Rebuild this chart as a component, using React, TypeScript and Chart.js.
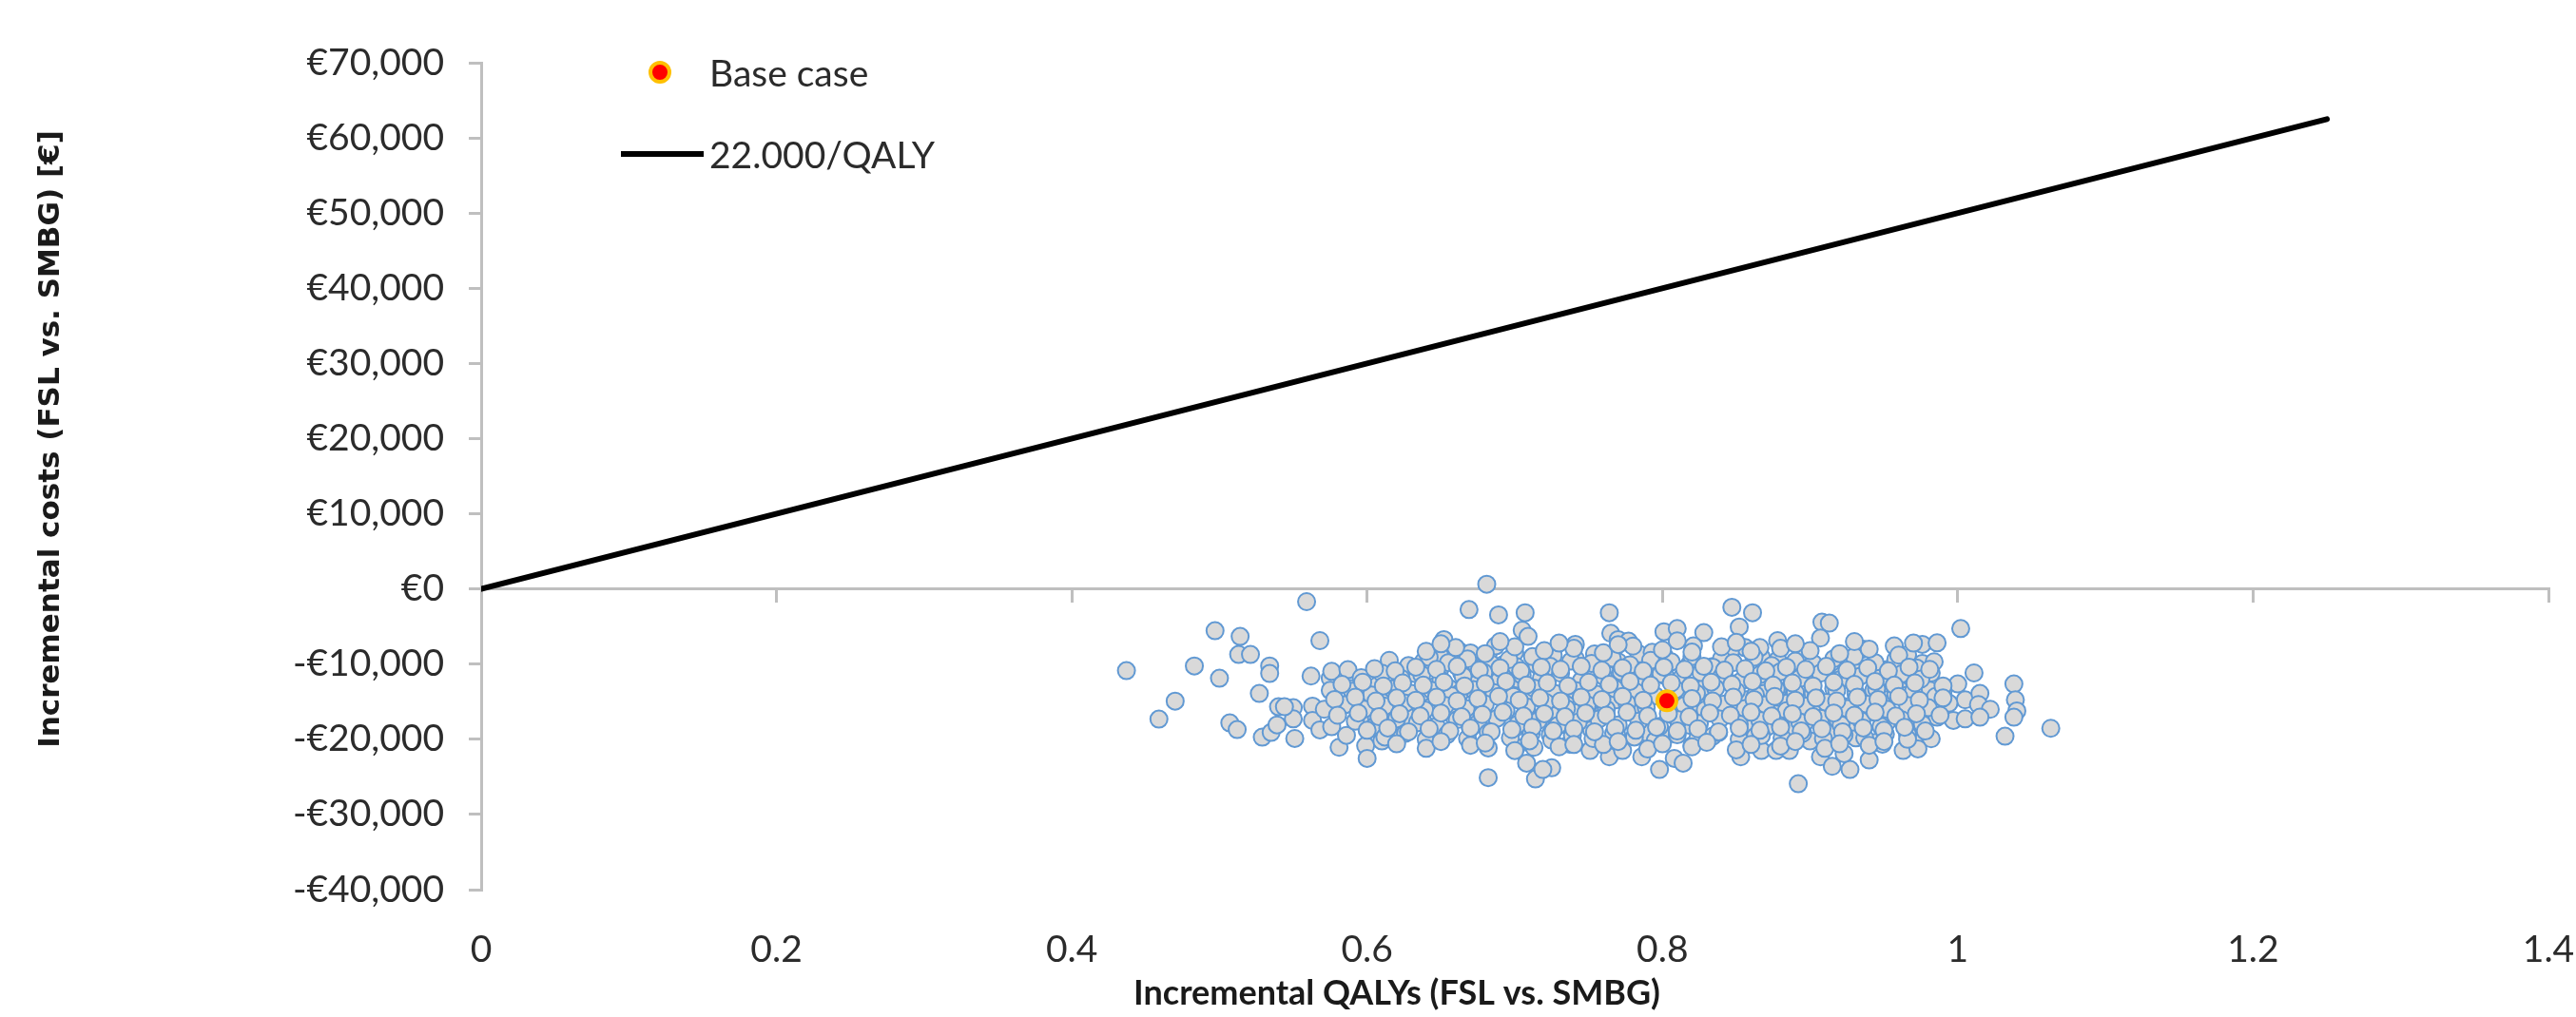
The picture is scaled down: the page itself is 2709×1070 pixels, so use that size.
import React, { useEffect, useRef } from "react";
import { Chart, registerables } from "chart.js";

Chart.register(...registerables);

// ---------- DATA ----------
const X_TICKS = [0, 0.2, 0.4, 0.6, 0.8, 1, 1.2, 1.4];
const Y_TICKS = [70000, 60000, 50000, 40000, 30000, 20000, 10000, 0, -10000, -20000, -30000, -40000];

const X_TITLE = "Incremental QALYs (FSL vs. SMBG)";
const Y_TITLE = "Incremental costs (FSL vs. SMBG) [€]";
const BASE_LABEL = "Base case";
const WTP_LABEL = "22.000/QALY";

const wtpLine: [number, number][] = [[0, 0], [1.25, 62500]];
const baseCase: [number, number][] = [[0.803, -14870]];

const cloudA: [number, number][] = [
  [0.437, -10870], [0.459, -17320], [0.470, -14920], [0.483, -10240], [0.497, -5560], [0.500, -11880],
  [0.514, -6320], [0.513, -8720], [0.521, -8720], [0.507, -17820], [0.512, -18710], [0.527, -13900],
  [0.534, -10240], [0.534, -11250], [0.529, -19720], [0.535, -19090], [0.540, -15670], [0.539, -18080],
];

const cloudB: [number, number][] = [
  [0.559, -1690], [0.568, -6870], [0.562, -11590], [0.550, -15800], [0.550, -17280], [0.551, -19890],
  [0.544, -15670], [0.563, -15590], [0.563, -17480], [0.568, -18750], [0.571, -16010], [0.576, -18330],
  [0.575, -11880], [0.576, -10960], [0.575, -13490], [0.587, -10740], [0.581, -21070], [0.586, -19470],
  [0.594, -15510], [0.599, -13400], [0.599, -20860], [0.600, -22540], [0.589, -13270], [0.591, -14950],
  [0.595, -17280], [0.607, -12850], [0.608, -16520], [0.612, -14330], [0.615, -19170], [0.610, -20220],
  [0.616, -17060], [0.623, -15380], [0.622, -13690], [0.632, -11250], [0.628, -17060], [0.636, -14540],
  [0.638, -9690], [0.644, -13060], [0.649, -10870], [0.649, -8760], [0.652, -6740], [0.644, -15590],
  [0.638, -17700], [0.645, -18750], [0.651, -16220], [0.656, -13270], [0.659, -17060], [0.662, -8220],
  [0.664, -11170], [0.670, -8510], [0.669, -2740], [0.663, -13820], [0.670, -18540], [0.672, -16850],
  [0.674, -12640], [0.677, -10530],
];

const cloudC: [number, number][] = [
  [0.681, 630], [0.682, -25100], [0.682, -21150],
  [0.689, -3450], [0.707, -3160], [0.705, -5480], [0.709, -6320], [0.683, -18960], [0.681, -13060],
  [0.682, -8640], [0.687, -7580], [0.695, -15170], [0.692, -10110], [0.700, -8430], [0.701, -10320],
  [0.702, -12010], [0.700, -18540], [0.701, -21070], [0.708, -23170], [0.713, -21070], [0.714, -25280],
  [0.725, -23800], [0.719, -24020], [0.709, -14330], [0.708, -16010], [0.715, -10110], [0.717, -12640],
  [0.722, -11170], [0.726, -8850], [0.726, -16850], [0.724, -19380], [0.730, -18120], [0.735, -14330],
  [0.737, -20640], [0.741, -7370], [0.741, -9270], [0.743, -16430], [0.747, -11790], [0.752, -18750],
  [0.751, -21490], [0.754, -10530], [0.754, -8640], [0.750, -13490], [0.760, -16430], [0.764, -3160],
  [0.765, -5900], [0.770, -6740], [0.777, -6950], [0.764, -12850], [0.770, -9690], [0.769, -14750],
  [0.769, -19380], [0.764, -22330], [0.773, -21490], [0.782, -16010], [0.782, -13900], [0.784, -8640],
  [0.780, -11380], [0.786, -22330], [0.790, -19170], [0.793, -8430], [0.796, -11380], [0.798, -24020],
  [0.801, -5690], [0.801, -8850], [0.802, -11590], [0.802, -19590], [0.808, -22540], [0.810, -5270],
  [0.808, -14330], [0.810, -17280],
];

const cloudD: [number, number][] = [
  [0.847, -2440], [0.861, -3160], [0.852, -5060], [0.828, -5810], [0.878, -6870], [0.908, -4420],
  [0.913, -4550], [0.907, -6530], [0.936, -8000], [0.896, -8430], [0.867, -9060], [0.856, -7800],
  [0.846, -8430], [0.834, -10320], [0.821, -7580], [0.818, -10110], [0.816, -13490], [0.826, -15800],
  [0.818, -18120], [0.820, -20860], [0.814, -23170], [0.843, -12130], [0.841, -16850], [0.834, -19590],
  [0.853, -22330], [0.854, -20440], [0.857, -14750], [0.858, -11380], [0.859, -17910], [0.867, -21490],
  [0.863, -19590], [0.870, -12130], [0.869, -13900], [0.871, -18330], [0.877, -21490], [0.878, -9480],
  [0.878, -13490], [0.877, -16650], [0.886, -21490], [0.888, -12220], [0.888, -18540], [0.892, -25910],
  [0.896, -17910], [0.896, -13490], [0.902, -13900], [0.903, -10110], [0.900, -20220], [0.907, -22330],
  [0.908, -16010], [0.915, -23600], [0.915, -18960], [0.919, -17480], [0.921, -11590], [0.927, -24020],
  [0.923, -21910], [0.927, -15590], [0.930, -10530], [0.931, -19810], [0.940, -22750], [0.941, -15590],
  [0.943, -13490], [0.944, -20440], [0.948, -10740], [0.840, -9270], [0.866, -7800], [0.829, -13060],
  [0.848, -16010], [0.885, -15170], [0.916, -13270], [0.929, -17700],
];

const cloudE: [number, number][] = [
  [1.002, -5270], [0.957, -7580], [0.976, -7370], [0.986, -7170], [0.966, -8760], [0.976, -9900],
  [0.984, -9690], [0.952, -10740], [0.966, -10740], [0.982, -11170], [1.011, -11170], [0.969, -12640],
  [1.000, -12640], [0.990, -13690], [0.952, -13060], [0.961, -13490], [1.038, -12640], [0.952, -14750],
  [1.005, -14750], [1.015, -13900], [1.014, -15380], [1.022, -16010], [1.039, -14750], [1.040, -16220],
  [1.038, -17060], [0.975, -15590], [0.952, -17700], [0.966, -17280], [0.986, -17060], [0.997, -17480],
  [1.005, -17280], [1.015, -17060], [1.063, -18540], [1.032, -19590], [0.982, -19930], [0.973, -19170],
  [0.966, -19380], [0.963, -21490], [0.973, -21280], [0.949, -20640], [0.981, -13490], [0.966, -14120],
];

const coreUpper: [number, number][] = [
  [0.615, -9500], [0.628, -10200], [0.642, -9100], [0.655, -9800], [0.668, -9300], [0.684, -10000],
  [0.696, -9400], [0.712, -9000], [0.724, -10300], [0.738, -9600], [0.752, -9900], [0.766, -9200],
  [0.778, -10100], [0.792, -9500], [0.806, -9700], [0.820, -9000], [0.834, -10400], [0.848, -9800],
  [0.862, -9100], [0.874, -10200], [0.890, -9600], [0.902, -9900], [0.916, -9300], [0.930, -9000],
  [0.944, -9800], [0.958, -9400], [0.972, -10500],
  [0.596, -11800], [0.610, -11200], [0.623, -11900], [0.637, -11400], [0.650, -12100], [0.665, -11600],
  [0.679, -11100], [0.690, -12000], [0.705, -11500], [0.718, -11900], [0.731, -11200], [0.745, -12200],
  [0.760, -11600], [0.772, -11000], [0.786, -12000], [0.799, -11300], [0.813, -11800], [0.826, -11100],
  [0.840, -11700], [0.853, -12300], [0.866, -11400], [0.880, -11000], [0.893, -11900], [0.907, -11200],
  [0.920, -12100], [0.934, -11600], [0.947, -11900], [0.962, -11300], [0.975, -12000],
];

const coreMiddle: [number, number][] = [
  [0.590, -13600], [0.603, -14100], [0.617, -13300], [0.630, -13900], [0.644, -13500], [0.657, -14200],
  [0.672, -13400], [0.686, -13800], [0.699, -14300], [0.713, -13200], [0.727, -13900], [0.741, -13500],
  [0.755, -14000], [0.768, -13300], [0.782, -13700], [0.795, -14200], [0.809, -13400], [0.823, -13900],
  [0.836, -13200], [0.850, -13600], [0.863, -14100], [0.877, -13300], [0.890, -13800], [0.904, -14300],
  [0.918, -13500], [0.931, -13900], [0.945, -13300], [0.958, -14000], [0.970, -13600], [0.985, -14300],
  [0.585, -15400], [0.598, -16000], [0.612, -15600], [0.626, -15200], [0.639, -16100], [0.653, -15500],
  [0.667, -15900], [0.680, -15300], [0.694, -16200], [0.708, -15700], [0.721, -15100], [0.735, -15900],
  [0.749, -15400], [0.762, -16000], [0.776, -15200], [0.789, -15800], [0.815, -15500], [0.829, -16100],
  [0.842, -15300], [0.856, -15900], [0.870, -15400], [0.884, -16200], [0.897, -15600], [0.911, -15100],
  [0.925, -15900], [0.938, -15300], [0.952, -16000], [0.966, -15500], [0.980, -15800], [0.994, -15200],
];

const coreLower: [number, number][] = [
  [0.592, -17600], [0.606, -18100], [0.620, -17300], [0.634, -17800], [0.647, -18300], [0.661, -17400],
  [0.675, -17900], [0.688, -17200], [0.702, -18000], [0.716, -17500], [0.729, -18200], [0.743, -17700],
  [0.757, -17300], [0.770, -18100], [0.784, -17600], [0.798, -18300], [0.811, -17400], [0.825, -17900],
  [0.839, -17300], [0.852, -18000], [0.866, -17500], [0.880, -18200], [0.893, -17700], [0.907, -17200],
  [0.921, -18100], [0.935, -17600], [0.948, -18300], [0.962, -17400], [0.976, -18000],
  [0.612, -19700], [0.626, -19200], [0.640, -20000], [0.654, -19400], [0.668, -19900], [0.682, -19100],
  [0.697, -19800], [0.711, -19300], [0.725, -20100], [0.739, -19500], [0.753, -19900], [0.767, -19200],
  [0.781, -19700], [0.795, -20200], [0.810, -19400], [0.824, -19800], [0.838, -19100], [0.852, -20000],
  [0.867, -19500], [0.881, -19800], [0.895, -19200], [0.909, -19900], [0.923, -19400], [0.937, -19800],
  [0.951, -19300], [0.966, -20000],
];

const coreEdges: [number, number][] = [
  [0.640, -8300], [0.660, -7800], [0.680, -8600], [0.700, -7700], [0.720, -8200], [0.740, -7900],
  [0.760, -8500], [0.780, -7600], [0.800, -8100], [0.820, -8400], [0.840, -7700], [0.860, -8300],
  [0.880, -7900], [0.900, -8200], [0.920, -8600], [0.940, -8000], [0.960, -8800],
  [0.640, -21200], [0.670, -20800], [0.700, -21500], [0.730, -21000], [0.760, -20700], [0.790, -21300],
  [0.820, -21000], [0.850, -21400], [0.880, -20900], [0.910, -21200], [0.940, -20800],
];

const coreBetweenUpper: [number, number][] = [
  [0.605, -10600], [0.619, -10900], [0.633, -10400], [0.647, -10700], [0.661, -10300], [0.676, -10800],
  [0.690, -10500], [0.704, -10900], [0.718, -10400], [0.731, -10700], [0.745, -10300], [0.759, -10800],
  [0.773, -10500], [0.787, -10900], [0.801, -10400], [0.815, -10700], [0.828, -10300], [0.842, -10800],
  [0.856, -10600], [0.870, -10900], [0.884, -10400], [0.897, -10700], [0.911, -10300], [0.925, -10800],
  [0.939, -10500], [0.953, -10900], [0.967, -10400], [0.981, -10700],
  [0.583, -12700], [0.597, -12400], [0.611, -12900], [0.624, -12500], [0.638, -12800], [0.652, -12400],
  [0.666, -12900], [0.680, -12600], [0.694, -12300], [0.708, -12800], [0.722, -12500], [0.736, -12900],
  [0.750, -12400], [0.764, -12700], [0.778, -12300], [0.792, -12800], [0.806, -12500], [0.819, -12900],
  [0.833, -12400], [0.847, -12700], [0.861, -12300], [0.875, -12800], [0.888, -12500], [0.902, -12900],
  [0.916, -12400], [0.930, -12700], [0.944, -12300], [0.957, -12800], [0.971, -12500], [0.990, -12900],
];

const coreBetweenMiddle: [number, number][] = [
  [0.578, -14700], [0.592, -14400], [0.606, -14900], [0.620, -14500], [0.633, -14800], [0.647, -14400],
  [0.661, -14900], [0.675, -14600], [0.689, -14300], [0.703, -14800], [0.717, -14500], [0.731, -14900],
  [0.745, -14400], [0.759, -14700], [0.773, -14300], [0.787, -14800], [0.820, -14600], [0.834, -14900],
  [0.848, -14400], [0.862, -14700], [0.876, -14300], [0.890, -14800], [0.904, -14500], [0.918, -14900],
  [0.932, -14400], [0.946, -14700], [0.960, -14300], [0.974, -14800], [0.990, -14500],
  [0.580, -16800], [0.594, -16500], [0.608, -17000], [0.622, -16600], [0.636, -16900], [0.650, -16500],
  [0.664, -17000], [0.678, -16700], [0.692, -16400], [0.706, -16900], [0.720, -16600], [0.734, -17000],
  [0.748, -16500], [0.762, -16800], [0.776, -16400], [0.790, -16900], [0.804, -16600], [0.818, -17000],
  [0.832, -16500], [0.846, -16800], [0.860, -16400], [0.874, -16900], [0.888, -16600], [0.902, -17000],
  [0.916, -16500], [0.930, -16800], [0.944, -16400], [0.958, -16900], [0.972, -16600], [0.988, -16800],
];

const coreBetweenLower: [number, number][] = [
  [0.600, -18800], [0.614, -18500], [0.628, -19000], [0.642, -18600], [0.656, -18900], [0.670, -18500],
  [0.684, -19000], [0.698, -18700], [0.712, -18400], [0.726, -18900], [0.740, -18600], [0.754, -19000],
  [0.768, -18500], [0.782, -18800], [0.796, -18400], [0.810, -18900], [0.824, -18600], [0.838, -19000],
  [0.852, -18500], [0.866, -18800], [0.880, -18400], [0.894, -18900], [0.908, -18600], [0.922, -19000],
  [0.936, -18500], [0.950, -18800], [0.964, -18400], [0.978, -18900],
  [0.620, -20600], [0.650, -20300], [0.680, -20500], [0.710, -20200], [0.740, -20700], [0.770, -20300],
  [0.800, -20600], [0.830, -20400], [0.860, -20700], [0.890, -20300], [0.920, -20600], [0.950, -20300],
  [0.650, -7300], [0.690, -7000], [0.730, -7200], [0.770, -7400], [0.810, -6900], [0.850, -7100],
  [0.890, -7300], [0.930, -7000], [0.970, -7200],
];

// ---------- HELPERS ----------
const toXY = (arr: [number, number][]) => arr.map(([x, y]) => ({ x, y }));
const fmtEuro = (v: number) => (v < 0 ? "-" : "") + "€" + Math.abs(v).toLocaleString("en-US");
const fmtQ = (v: number) => String(Number(v.toFixed(1)));

const TICK_FONT = { family: "Lato, 'Open Sans', sans-serif", size: 39 };
const TEXT_COLOR = "#2b2b2b";
const AXIS_COLOR = "#BFBFBF";

export default function App() {
  const ref = useRef<HTMLCanvasElement | null>(null);

  useEffect(() => {
    const canvas = ref.current;
    if (!canvas) return;

    const decor = {
      id: "decor",
      afterDraw(chart: any) {
        const ctx = chart.ctx as CanvasRenderingContext2D;
        // Y axis title
        ctx.save();
        ctx.fillStyle = "#1a1a1a";
        ctx.font = "bold 31px 'DejaVu Sans', sans-serif";
        ctx.textAlign = "center";
        ctx.textBaseline = "middle";
        ctx.translate(54, 462);
        ctx.rotate(-Math.PI / 2);
        ctx.fillText(Y_TITLE, 0, 0);
        ctx.restore();
        // X axis title
        ctx.save();
        ctx.fillStyle = "#1a1a1a";
        ctx.font = "bold 36px Lato, 'Open Sans', sans-serif";
        ctx.textAlign = "center";
        ctx.textBaseline = "middle";
        ctx.fillText(X_TITLE, 1469, 1045);
        ctx.restore();
        // Legend
        const ds = chart.data.datasets;
        ctx.save();
        ctx.font = "39px Lato, 'Open Sans', sans-serif";
        ctx.textAlign = "left";
        ctx.textBaseline = "middle";
        ctx.beginPath();
        ctx.arc(694, 76, 10, 0, Math.PI * 2);
        ctx.fillStyle = ds[0].backgroundColor;
        ctx.fill();
        ctx.lineWidth = 4;
        ctx.strokeStyle = ds[0].borderColor;
        ctx.stroke();
        ctx.fillStyle = TEXT_COLOR;
        ctx.fillText(ds[0].label, 746, 78);
        ctx.beginPath();
        ctx.moveTo(653, 162);
        ctx.lineTo(740, 162);
        ctx.lineWidth = 6;
        ctx.strokeStyle = ds[1].borderColor;
        ctx.stroke();
        ctx.fillText(ds[1].label, 746, 164);
        ctx.restore();
      },
    };

    const cloud = [
      ...cloudA, ...cloudB, ...cloudC, ...cloudD, ...cloudE,
      ...coreUpper, ...coreMiddle, ...coreLower, ...coreEdges,
      ...coreBetweenUpper, ...coreBetweenMiddle, ...coreBetweenLower,
    ];

    const setTicks = (values: number[]) => (s: any) => {
      s.ticks = values.map((v) => ({ value: v }));
    };

    const chart = new Chart(canvas, {
      type: "scatter",
      data: {
        datasets: [
          {
            label: BASE_LABEL,
            data: toXY(baseCase),
            pointRadius: 10,
            pointBorderWidth: 4,
            backgroundColor: "#FF0000",
            borderColor: "#FFC000",
            order: 0,
          } as any,
          {
            label: WTP_LABEL,
            data: toXY(wtpLine),
            showLine: true,
            borderColor: "#000000",
            backgroundColor: "#000000",
            borderWidth: 6,
            pointRadius: 0,
            borderCapStyle: "round",
            order: 1,
          } as any,
          {
            label: "PSA",
            data: toXY(cloud),
            pointRadius: 9,
            pointBorderWidth: 2,
            backgroundColor: "#D9D9D9",
            borderColor: "#6199D3",
            order: 2,
          } as any,
        ],
      },
      options: {
        responsive: false,
        animation: false,
        devicePixelRatio: 1,
        events: [],
        layout: { padding: { left: 0, right: 29, top: 66, bottom: 0 } },
        plugins: { legend: { display: false }, tooltip: { enabled: false } },
        scales: {
          x: {
            type: "linear",
            axis: "x",
            position: { y: 0 },
            min: 0,
            max: 1.4,
            afterBuildTicks: setTicks(X_TICKS),
            ticks: { display: false },
            grid: { display: true, drawOnChartArea: false, drawTicks: true, tickLength: 13, color: AXIS_COLOR, lineWidth: 3 },
            border: { display: true, color: AXIS_COLOR, width: 3 },
          },
          x2: {
            type: "linear",
            axis: "x",
            position: "bottom",
            min: 0,
            max: 1.4,
            afterBuildTicks: setTicks(X_TICKS),
            ticks: {
              display: true,
              font: TICK_FONT,
              color: TEXT_COLOR,
              padding: 0,
              maxRotation: 0,
              autoSkip: false,
              callback: (v: any) => fmtQ(Number(v)),
            },
            grid: { display: false, drawTicks: true, tickLength: 40 },
            border: { display: false },
            afterFit: (s: any) => { s.height = 134; },
          },
          y: {
            type: "linear",
            position: "left",
            min: -40000,
            max: 70000,
            afterBuildTicks: setTicks(Y_TICKS.slice().reverse()),
            ticks: {
              font: TICK_FONT,
              color: TEXT_COLOR,
              padding: 26,
              autoSkip: false,
              callback: (v: any) => fmtEuro(Number(v)),
            },
            grid: { display: true, drawOnChartArea: false, drawTicks: true, tickLength: 13, color: AXIS_COLOR, lineWidth: 3 },
            border: { display: true, color: AXIS_COLOR, width: 3 },
            afterFit: (s: any) => { s.width = 506; },
          },
        } as any,
      },
      plugins: [decor],
    } as any);

    let alive = true;
    if ((document as any).fonts && (document as any).fonts.load) {
      Promise.all([
        (document as any).fonts.load("39px Lato"),
        (document as any).fonts.load("bold 36px Lato"),
        (document as any).fonts.load("bold 31px 'DejaVu Sans'"),
      ]).then(() => { if (alive) chart.update(); }).catch(() => {});
    }

    return () => {
      alive = false;
      chart.destroy();
    };
  }, []);

  return (
    <div style={{ position: "fixed", left: 0, top: 0, width: 2709, height: 1070, background: "#ffffff" }}>
      <canvas ref={ref} width={2709} height={1070} style={{ width: "2709px", height: "1070px", display: "block" }} />
    </div>
  );
}
